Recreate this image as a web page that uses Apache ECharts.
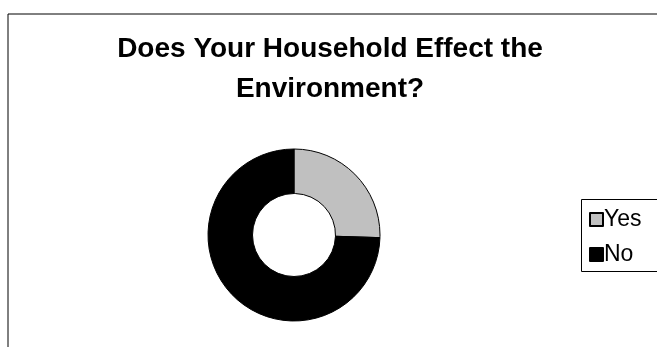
<!DOCTYPE html>
<html><head><meta charset="utf-8">
<script src="https://cdn.jsdelivr.net/npm/echarts@6/dist/echarts.min.js"></script>
<style>html,body{margin:0;padding:0;background:#fff}#c{width:657px;height:347px}</style>
</head><body><div id="c"></div>
<script>
const categories = ['Yes', 'No'];
const values = [26, 76];
const colors = ['#c0c0c0', '#000000'];
const titleText = 'Does Your Household Effect the\nEnvironment?';

const chart = echarts.init(document.getElementById('c'));
chart.setOption({
  animation: false,
  title: {
    text: titleText, left: 325, top: 24, textAlign: 'center',
    textStyle: { fontFamily: 'Liberation Sans', fontWeight: 'bold', fontSize: 28, lineHeight: 40, color: '#000' }
  },
  graphic: [
    { type: 'line', shape: { x1: 8, y1: 14, x2: 700, y2: 14 }, style: { stroke: '#000', lineWidth: 1 } },
    { type: 'line', shape: { x1: 8, y1: 14, x2: 8, y2: 360 }, style: { stroke: '#000', lineWidth: 1 } },
    { type: 'rect', shape: { x: 581.5, y: 199.5, width: 120, height: 72 }, style: { fill: 'none', stroke: '#000', lineWidth: 1 } }
  ],
  legend: {
    orient: 'vertical', left: 584, top: 203, icon: 'rect', itemWidth: 13, itemHeight: 13, itemGap: 12,
    textStyle: { fontFamily: 'Liberation Sans', fontSize: 23, lineHeight: 23, color: '#000', padding: [0, 0, 0, -4] },
    data: categories
  },
  series: [{
    type: 'pie', center: [294, 235], radius: [41.5, 86], startAngle: 90, clockwise: true,
    label: { show: false }, labelLine: { show: false }, emphasis: { disabled: true },
    itemStyle: { borderColor: '#000', borderWidth: 1 },
    data: categories.map((c, i) => ({ name: c, value: values[i], itemStyle: { color: colors[i] } }))
  }]
});
</script></body></html>
